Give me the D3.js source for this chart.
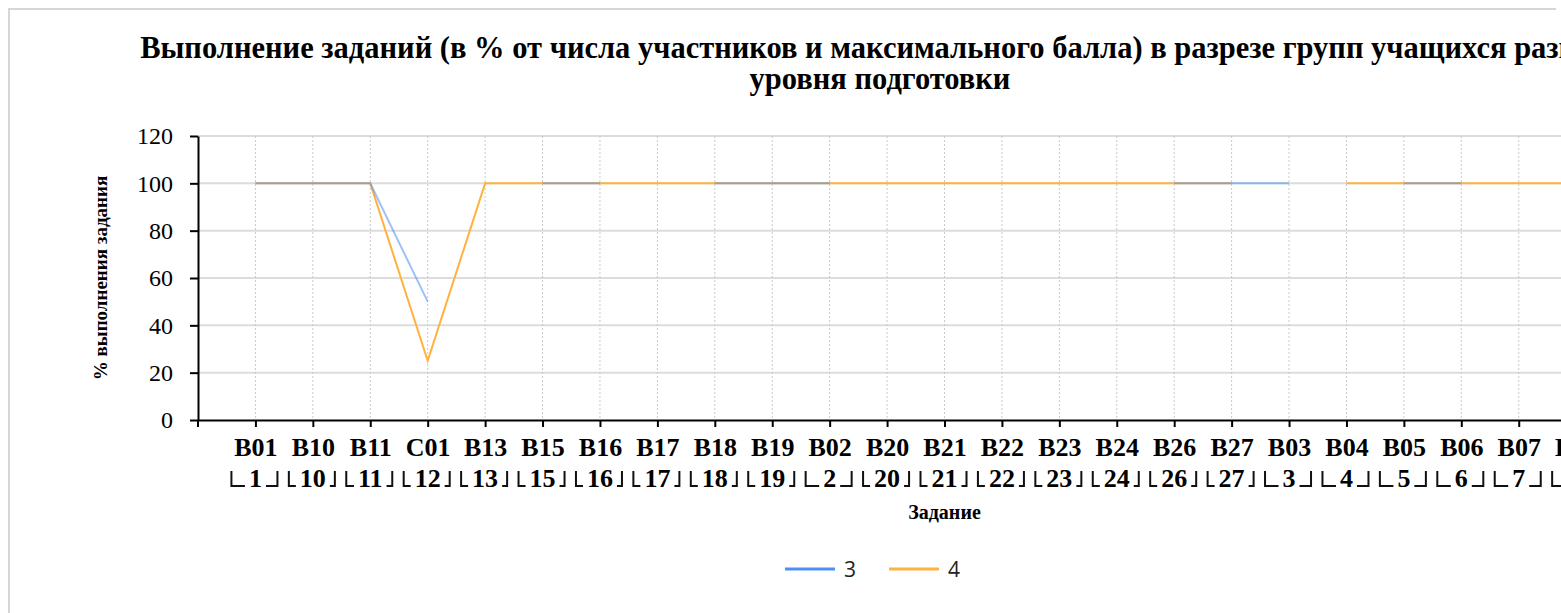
<!DOCTYPE html>
<html>
<head>
<meta charset="utf-8">
<script src="https://cdn.jsdelivr.net/npm/d3@7"></script>
<style>
  html, body { margin: 0; padding: 0; background: #fff; overflow: hidden; }
  .frame {
    position: absolute; left: 8px; top: 8px; width: 1544px; height: 700px;
    border: 2px solid #d6d6d6;
  }
  #chart { position: absolute; left: 0; top: 0; }
</style>
</head>
<body>
<div class="frame"></div>
<svg id="chart"></svg>
<script>
// categories (task code + task number)
const tasks = ['B01', 'B10', 'B11', 'C01', 'B13', 'B15', 'B16', 'B17', 'B18', 'B19', 'B02', 'B20',
  'B21', 'B22', 'B23', 'B24', 'B26', 'B27', 'B03', 'B04', 'B05', 'B06', 'B07', 'B08', 'B09']
const taskNums = ['1', '10', '11', '12', '13', '15', '16', '17', '18', '19', '2', '20',
  '21', '22', '23', '24', '26', '27', '3', '4', '5', '6', '7', '8', '9']

// series values (% of completion), null = no data
const group3 = [100, 100, 100, 50, null, 100, 100, null, 100, 100, 100, null,
  null, null, null, null, 100, 100, 100, null, 100, 100, null, null, null]
const group4 = [100, 100, 100, 25, 100, 100, 100, 100, 100, 100, 100, 100,
  100, 100, 100, 100, 100, 100, null, 100, 100, 100, 100, 100, 100]

const seriesNames = ['3', '4']
const yTicks = [0, 20, 40, 60, 80, 100, 120]

const titleLines = [
  'Выполнение заданий (в % от числа участников и максимального балла) в разрезе групп учащихся разного',
  'уровня подготовки'
]

const width = 1760
const height = 613
const plot = { left: 198, right: 1691, top: 136, bottom: 420 }
const centerX = 880
const serif = 'Liberation Serif, Times New Roman, serif'

const svg = d3
  .select('#chart')
  .attr('width', width)
  .attr('height', height)

svg
  .append('rect')
  .attr('x', 10)
  .attr('y', 10)
  .attr('width', width)
  .attr('height', height)
  .attr('fill', '#fff')

/// Scales////////////////////////////////
const xScale = d3
  .scalePoint()
  .domain(tasks)
  .range([plot.left, plot.right])
  .padding(1)
const yScale = d3
  .scaleLinear()
  .domain([0, 120])
  .range([plot.bottom, plot.top])

const colors = ['#4d8ff3', '#ffb240']

/// title////////////////////////////////
svg
  .selectAll('.headline')
  .data(titleLines)
  .join('text')
  .attr('class', 'headline')
  .text(d => d)
  .attr('x', centerX)
  .attr('y', (d, i) => 58 + i * 31)
  .attr('text-anchor', 'middle')
  .attr('font-family', serif)
  .attr('font-size', 30.5)
  .attr('font-weight', 'bold')
  .attr('fill', '#000')

/// grid////////////////////////////////
svg
  .append('g')
  .attr('class', 'grid-y')
  .selectAll('line')
  .data(yTicks.filter(d => d > 0))
  .join('line')
  .attr('x1', plot.left)
  .attr('x2', plot.right)
  .attr('y1', d => yScale(d))
  .attr('y2', d => yScale(d))
  .attr('stroke', '#dcdcdc')
  .attr('stroke-width', 2)

svg
  .append('g')
  .attr('class', 'grid-x')
  .selectAll('line')
  .data(tasks)
  .join('line')
  .attr('x1', d => xScale(d))
  .attr('x2', d => xScale(d))
  .attr('y1', plot.top)
  .attr('y2', plot.bottom)
  .attr('stroke', '#c8c8c8')
  .attr('stroke-width', 1)
  .attr('stroke-dasharray', '2,2')

/// lines////////////////////////////////
const line = d3
  .line()
  .defined(d => d.v != null)
  .x(d => xScale(d.task))
  .y(d => yScale(d.v))

const toPoints = vals => tasks.map((t, i) => ({ task: t, v: vals[i] }))

svg
  .append('path')
  .attr('class', 'line-4')
  .datum(toPoints(group4))
  .attr('d', line)
  .attr('fill', 'none')
  .attr('stroke', colors[1])
  .attr('stroke-width', 2)

svg
  .append('path')
  .attr('class', 'line-3')
  .datum(toPoints(group3))
  .attr('d', line)
  .attr('fill', 'none')
  .attr('stroke', colors[0])
  .attr('stroke-opacity', 0.55)
  .attr('stroke-width', 2)

/// axes////////////////////////////////
const yAxis = svg
  .append('g')
  .attr('class', 'axis y-axis')
  .attr('transform', 'translate(' + plot.left + ',0)')
  .call(
    d3
      .axisLeft(yScale)
      .tickValues(yTicks)
      .tickSizeInner(8)
      .tickSizeOuter(0)
      .tickPadding(17)
  )
yAxis.select('.domain').attr('stroke', '#000').attr('stroke-width', 2)
yAxis.selectAll('.tick line').attr('stroke', '#000').attr('stroke-width', 2)
yAxis
  .selectAll('.tick text')
  .attr('font-family', serif)
  .attr('font-size', 24)
  .attr('fill', '#000')

const xAxis = svg
  .append('g')
  .attr('class', 'axis x-axis')
  .attr('transform', 'translate(0,' + plot.bottom + ')')
  .call(
    d3
      .axisBottom(xScale)
      .tickSizeInner(7)
      .tickSizeOuter(0)
      .tickPadding(11)
  )
xAxis.select('.domain').attr('stroke', '#000').attr('stroke-width', 2)
xAxis.selectAll('.tick line').attr('stroke', '#000').attr('stroke-width', 2)
xAxis
  .selectAll('.tick text')
  .attr('font-family', serif)
  .attr('font-size', 26)
  .attr('font-weight', 'bold')
  .attr('fill', '#000')

// little tick where the axes meet
svg
  .append('line')
  .attr('x1', plot.left)
  .attr('x2', plot.left)
  .attr('y1', plot.bottom)
  .attr('y2', plot.bottom + 7)
  .attr('stroke', '#000')
  .attr('stroke-width', 2)

/// second row: task numbers in brackets////////////////////////////////
const groupRow = svg.append('g').attr('class', 'group-row')
const rowY = 487

const groups = groupRow
  .selectAll('g')
  .data(tasks)
  .join('g')
  .attr('transform', d => 'translate(' + xScale(d) + ',0)')

groups
  .append('text')
  .text((d, i) => taskNums[i])
  .attr('y', rowY)
  .attr('text-anchor', 'middle')
  .attr('font-family', serif)
  .attr('font-size', 26)
  .attr('font-weight', 'bold')
  .attr('fill', '#000')

groups.each(function() {
  const g = d3.select(this)
  const half = g.select('text').node().getComputedTextLength() / 2
  const inner = Math.max(half + 4, 9)
  g.append('path')
    .attr('d', 'M-24,' + (rowY - 16) + 'V' + (rowY - 1) + 'H' + -inner)
    .attr('fill', 'none')
    .attr('stroke', '#111')
    .attr('stroke-width', 2)
  g.append('path')
    .attr('d', 'M' + inner + ',' + (rowY - 1) + 'H22V' + (rowY - 16))
    .attr('fill', 'none')
    .attr('stroke', '#111')
    .attr('stroke-width', 2)
})

/// axis titles////////////////////////////////
svg
  .append('text')
  .attr('class', 'x-title')
  .text('Задание')
  .attr('x', (plot.left + plot.right) / 2)
  .attr('y', 519)
  .attr('text-anchor', 'middle')
  .attr('font-family', serif)
  .attr('font-size', 20)
  .attr('font-weight', 'bold')
  .attr('fill', '#000')

svg
  .append('text')
  .attr('class', 'y-title')
  .text('% выполнения задания')
  .attr('transform', 'translate(107,' + (plot.top + plot.bottom) / 2 + ') rotate(-90)')
  .attr('text-anchor', 'middle')
  .attr('font-family', serif)
  .attr('font-size', 19)
  .attr('font-weight', 'bold')
  .attr('fill', '#000')

/// legend////////////////////////////////
const legend = svg
  .append('g')
  .attr('class', 'legend')
  .attr('transform', 'translate(785,569)')

const items = legend
  .selectAll('g')
  .data(seriesNames)
  .join('g')
  .attr('transform', (d, i) => 'translate(' + i * 104 + ',0)')

items
  .append('line')
  .attr('x1', 0)
  .attr('x2', 50)
  .attr('stroke', (d, i) => colors[i])
  .attr('stroke-width', 3)

items
  .append('text')
  .text(d => d)
  .attr('x', 59)
  .attr('y', 8)
  .attr('font-family', 'Open Sans, sans-serif')
  .attr('font-size', 21)
  .attr('fill', '#222')
</script>
</body>
</html>
